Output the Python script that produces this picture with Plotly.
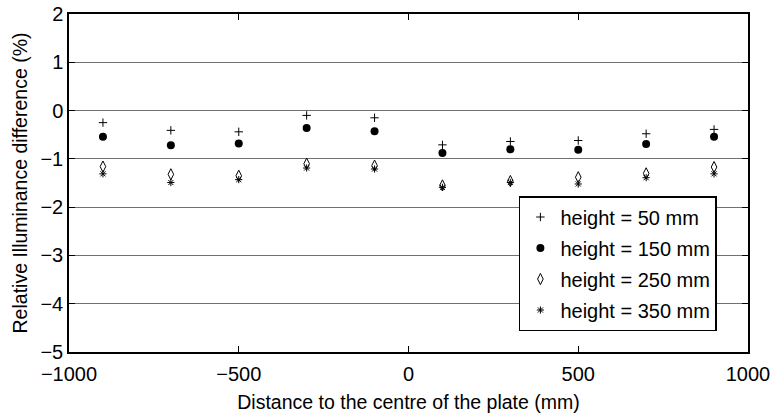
import plotly.graph_objects as go

x_pos = [-900, -700, -500, -300, -100, 100, 300, 500, 700, 900]
h50 = [-0.25, -0.41, -0.44, -0.10, -0.15, -0.71, -0.64, -0.62, -0.48, -0.39]
h150 = [-0.54, -0.72, -0.68, -0.36, -0.43, -0.88, -0.80, -0.81, -0.69, -0.54]
h250 = [-1.16, -1.32, -1.35, -1.10, -1.14, -1.55, -1.46, -1.38, -1.30, -1.17]
h350 = [-1.31, -1.49, -1.43, -1.19, -1.21, -1.59, -1.49, -1.52, -1.39, -1.31]
names = ["height = 50 mm", "height = 150 mm", "height = 250 mm", "height = 350 mm"]
x_ticks = [-1000, -500, 0, 500, 1000]
y_ticks = [-5, -4, -3, -2, -1, 0, 1, 2]

FONT = "Liberation Sans, Arial, Helvetica, sans-serif"

fig = go.Figure()
fig.add_trace(go.Scatter(x=x_pos, y=h50, mode="markers", name=names[0], legendgroup="a",
                         marker=dict(symbol="cross-thin-open", size=6, color="black",
                                     line=dict(width=1, color="black"))))
fig.add_trace(go.Scatter(x=x_pos, y=h150, mode="markers", name=names[1], legendgroup="b",
                         marker=dict(symbol="circle", size=8, color="black",
                                     line=dict(width=0))))
fig.add_trace(go.Scatter(x=x_pos, y=h250, mode="markers", name=names[2], legendgroup="c",
                         marker=dict(symbol="diamond-tall-open", size=8, color="black",
                                     line=dict(width=1, color="black"))))
fig.add_trace(go.Scatter(x=x_pos, y=h350, mode="markers", name=names[3], legendgroup="d",
                         marker=dict(symbol="asterisk-open", size=6, color="black",
                                     line=dict(width=1, color="black"))))

fig.update_layout(
    width=774, height=413,
    margin=dict(l=69, r=26, t=14, b=61),
    paper_bgcolor="white", plot_bgcolor="white",
    font=dict(family=FONT, size=20, color="black"),
    showlegend=True,
    legend=dict(x=0.6626, y=0.4615, xanchor="left", yanchor="top",
                bgcolor="white", bordercolor="black", borderwidth=1.5,
                tracegroupgap=2, itemwidth=30,
                font=dict(size=20, family=FONT)),
    xaxis=dict(range=[-1000, 1000], tickvals=x_ticks, ticks="inside", ticklen=6,
               tickcolor="black", showline=True, linecolor="black", linewidth=1.5,
               mirror="ticks", showgrid=False, zeroline=False, automargin=False,
               tickfont=dict(size=20), ticklabelstandoff=3,
               title=dict(text="Distance to the centre of the plate (mm)",
                          font=dict(size=19.5))),
    yaxis=dict(range=[-5, 2], tickvals=y_ticks, ticks="inside", ticklen=6,
               tickcolor="black", showline=True, linecolor="black", linewidth=1.5,
               mirror="ticks", showgrid=True, gridcolor="#707070", gridwidth=1.2,
               zeroline=False, automargin=False, tickfont=dict(size=20),
               title=dict(text="Relative Illuminance difference (%)",
                          font=dict(size=19.5), standoff=8)),
)

fig.write_html("out.html")
